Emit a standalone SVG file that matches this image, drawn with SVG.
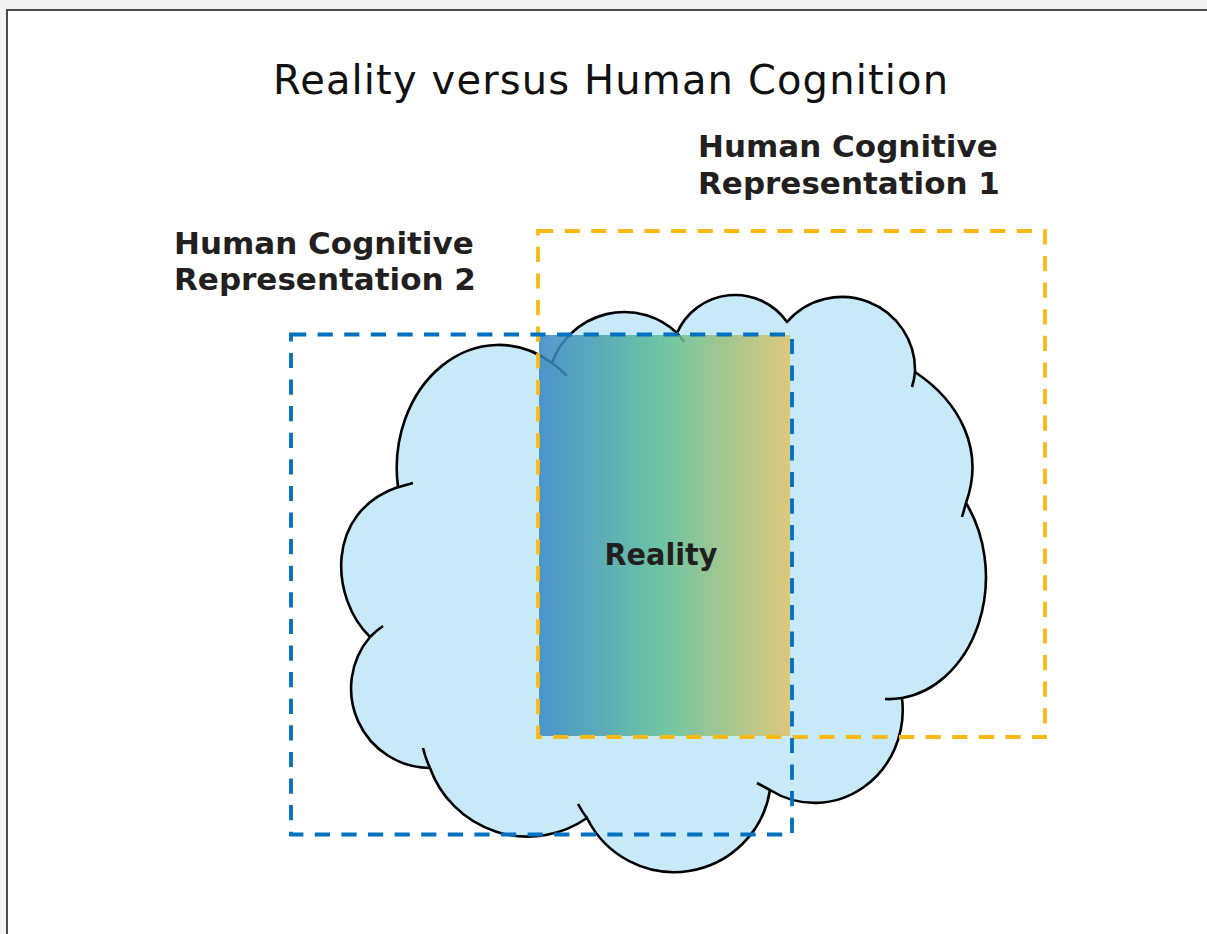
<svg xmlns="http://www.w3.org/2000/svg" width="1207" height="934" viewBox="0 0 1207 934">
<style>
.title{font-family:"DejaVu Sans","Liberation Sans",sans-serif;font-size:40px;fill:#111;}
.lbl{font-family:"DejaVu Sans","Liberation Sans",sans-serif;font-size:31px;font-weight:bold;fill:#231f20;}
.cloud{fill:#c7e9f8;stroke:none;}
.outline{fill:none;stroke:#000;stroke-width:2.6;stroke-linejoin:round;}
.dash{fill:none;stroke-width:3.8;stroke-dasharray:15.2 11.4;}
</style>
<defs>
<linearGradient id="realGrad" x1="0" y1="0" x2="1" y2="0">
<stop offset="0" stop-color="#3485c4"/>
<stop offset="0.5" stop-color="#5fbf93"/>
<stop offset="1" stop-color="#e0c266"/>
</linearGradient>
</defs>
<rect x="0" y="0" width="1207" height="934" fill="#f3f3f3"/>
<rect x="7" y="10" width="1200" height="924" fill="#ffffff"/>
<path d="M7,934 V10 H1207" fill="none" stroke="#4a4a4a" stroke-width="2"/>
<text class="title" x="610.5" y="93.5" text-anchor="middle" textLength="675" lengthAdjust="spacing">Reality versus Human Cognition</text>
<g id="reality">
<path class="cloud" d="M398,487 A102,123 0 0 1 552,363 A76.7,76.7 0 0 1 677,333 A63.4,63.4 0 0 1 787,322 A73,73 0 0 1 915,372 C960,402 985,450 966,503 A97,122 0 0 1 902,698 A88,93 0 0 1 770,790 A97.1,97.1 0 0 1 587,818 A103.9,103.9 0 0 1 430,768 A79.5,79.5 0 0 1 370,637 C330,598 325,512 398,487 Z"/>
<path class="outline" d="M398,487 A102,123 0 0 1 552,363 A76.7,76.7 0 0 1 677,333 A63.4,63.4 0 0 1 787,322 A73,73 0 0 1 915,372 C960,402 985,450 966,503 A97,122 0 0 1 902,698 A88,93 0 0 1 770,790 A97.1,97.1 0 0 1 587,818 A103.9,103.9 0 0 1 430,768 A79.5,79.5 0 0 1 370,637 C330,598 325,512 398,487 Z"/>
<path class="outline" d="M397,487.5 L413,483 M552,363 A102,123 0 0 1 567,376 M677,333 A76.7,76.7 0 0 1 684,342 M915,372 A73,73 0 0 1 912,387 M966,503 L962,517 M902,698 A97,122 0 0 1 885,699 M770,790 L757,783 M587,818 A97.1,97.1 0 0 1 578,804 M430,768 A103.9,103.9 0 0 1 423,748 M370,637 A79.5,79.5 0 0 1 383,626"/>
<rect x="539" y="335" width="251" height="401" fill="url(#realGrad)" opacity="0.85"/>
<text class="lbl" x="661" y="565" text-anchor="middle" textLength="113" lengthAdjust="spacingAndGlyphs">Reality</text>
</g>
<g id="rep1">
<rect class="dash" x="538" y="231" width="507" height="506" stroke="#fdb913"/>
<text class="lbl" x="698" y="157">Human Cognitive</text>
<text class="lbl" x="698" y="193.5">Representation 1</text>
</g>
<g id="rep2">
<rect class="dash" x="291" y="334.5" width="501" height="500" stroke="#0070c0"/>
<text class="lbl" x="174" y="253.5">Human Cognitive</text>
<text class="lbl" x="174" y="289.5">Representation 2</text>
</g>
<g id="connectors"></g>
</svg>
